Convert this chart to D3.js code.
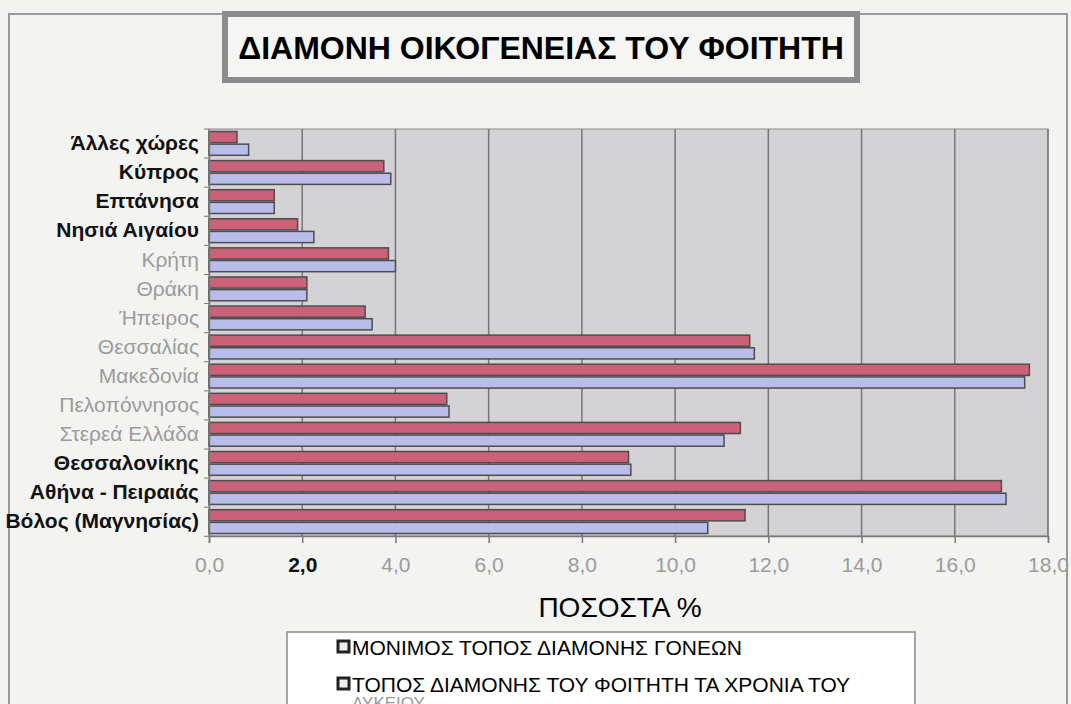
<!DOCTYPE html>
<html>
<head>
<meta charset="utf-8">
<script src="https://cdn.jsdelivr.net/npm/d3@7"></script>
<style>
  body { margin: 0; background: #f3f3f1; }
  svg { display: block; }
</style>
</head>
<body>
<div id="chart"></div>
<script>
const width = 1071;
const height = 704;

// categories, top to bottom as in the picture
const regions = ['Άλλες χώρες', 'Κύπρος', 'Επτάνησα', 'Νησιά Αιγαίου', 'Κρήτη', 'Θράκη', 'Ήπειρος',
  'Θεσσαλίας', 'Μακεδονία', 'Πελοπόννησος', 'Στερεά Ελλάδα', 'Θεσσαλονίκης', 'Αθήνα - Πειραιάς', 'Βόλος (Μαγνησίας)'];
// labels printed black & bold in the original (others are grey)
const darkLabels = ['Άλλες χώρες', 'Κύπρος', 'Επτάνησα', 'Νησιά Αιγαίου', 'Θεσσαλονίκης', 'Αθήνα - Πειραιάς', 'Βόλος (Μαγνησίας)'];

const parents = [0.6, 3.75, 1.4, 1.9, 3.85, 2.1, 3.35, 11.6, 17.6, 5.1, 11.4, 9.0, 17.0, 11.5];
const student = [0.85, 3.9, 1.4, 2.25, 4.0, 2.1, 3.5, 11.7, 17.5, 5.15, 11.05, 9.05, 17.1, 10.7];

const seriesNames = ['ΜΟΝΙΜΟΣ ΤΟΠΟΣ ΔΙΑΜΟΝΗΣ ΓΟΝΕΩΝ', 'ΤΟΠΟΣ ΔΙΑΜΟΝΗΣ ΤΟΥ ΦΟΙΤΗΤΗ ΤΑ ΧΡΟΝΙΑ ΤΟΥ'];
const xTicks = [0, 2, 4, 6, 8, 10, 12, 14, 16, 18];

const rows = regions.map((r, i) => ({ region: r, values: [parents[i], student[i]] }));

const color = d3.scaleOrdinal().domain([0, 1]).range(['#cc6279', '#b9bdea']);

const x = d3.scaleLinear().domain([0, 18]).range([209, 1048]);
const y = d3.scaleBand().domain(regions).range([129, 536]).paddingInner(0.13).paddingOuter(0.06);
const ySub = d3.scaleBand().domain([0, 1]).range([0, y.bandwidth()]).padding(0);

const svg = d3.select('#chart').append('svg').attr('width', width).attr('height', height);

// outer chart frame
svg.append('rect')
  .attr('x', 9).attr('y', 14).attr('width', 1058).attr('height', 720)
  .attr('fill', '#f3f3f1').attr('stroke', '#9a9a9a').attr('stroke-width', 2);

// title box
svg.append('rect')
  .attr('x', 225).attr('y', 14).attr('width', 632).attr('height', 66)
  .attr('fill', '#f5f5f3').attr('stroke', '#8c8c8c').attr('stroke-width', 6);
svg.append('text')
  .attr('x', 541).attr('y', 59)
  .attr('text-anchor', 'middle')
  .style('font-family', 'Liberation Sans, Arial, sans-serif')
  .style('font-weight', 'bold')
  .style('font-size', '32px')
  .text('ΔΙΑΜΟΝΗ ΟΙΚΟΓΕΝΕΙΑΣ ΤΟΥ ΦΟΙΤΗΤΗ');

// plot area
svg.append('rect')
  .attr('x', x(0)).attr('y', 129).attr('width', x(18) - x(0)).attr('height', 536 - 129)
  .attr('fill', '#d3d3d5').attr('stroke', '#8a8a8a').attr('stroke-width', 1);

// vertical gridlines
svg.append('g')
  .selectAll('line')
  .data(xTicks.slice(1))
  .join('line')
  .attr('x1', d => x(d)).attr('x2', d => x(d))
  .attr('y1', 129).attr('y2', 536)
  .attr('stroke', '#777').attr('stroke-width', 1.5);

// bars
const groups = svg.append('g')
  .selectAll('g.region')
  .data(rows)
  .join('g')
  .attr('class', 'region')
  .attr('transform', d => `translate(0,${y(d.region)})`);

groups.selectAll('rect')
  .data(d => d.values.map((v, i) => ({ v, i })))
  .join('rect')
  .attr('x', x(0))
  .attr('y', d => ySub(d.i) + 0.75)
  .attr('width', d => x(d.v) - x(0))
  .attr('height', ySub.bandwidth() - 1.5)
  .attr('fill', d => color(d.i))
  .attr('stroke', '#4d4d4d')
  .attr('stroke-width', 1.5);

// x axis
const xAxis = svg.append('g')
  .attr('transform', 'translate(0,536)')
  .call(d3.axisBottom(x).tickValues(xTicks).tickSize(7).tickPadding(14)
    .tickFormat(d => d3.format('.1f')(d).replace('.', ',')));
xAxis.select('.domain').attr('stroke', '#777').attr('stroke-width', 1.5);
xAxis.selectAll('line').attr('stroke', '#777').attr('stroke-width', 1.5);
xAxis.selectAll('text')
  .style('font-family', 'Liberation Sans, Arial, sans-serif')
  .style('font-size', '21px')
  .attr('fill', d => d === 2 ? '#111' : '#9b9b9b')
  .style('font-weight', d => d === 2 ? 'bold' : 'normal');

// y axis
const yAxis = svg.append('g')
  .attr('transform', `translate(${x(0)},0)`)
  .call(d3.axisLeft(y).tickSize(0).tickPadding(10));
yAxis.select('.domain').attr('stroke', '#777').attr('stroke-width', 1.5);
yAxis.selectAll('text')
  .style('font-family', 'Liberation Sans, Arial, sans-serif')
  .style('font-size', '21px')
  .attr('fill', d => darkLabels.includes(d) ? '#111' : '#9b9b9b')
  .style('font-weight', d => darkLabels.includes(d) ? 'bold' : 'normal');

// small category ticks on the left side between groups
svg.append('g')
  .selectAll('line')
  .data(d3.range(regions.length + 1))
  .join('line')
  .attr('x1', x(0) - 5).attr('x2', x(0))
  .attr('y1', i => 129 + i * y.step()).attr('y2', i => 129 + i * y.step())
  .attr('stroke', '#777');

// axis title
svg.append('text')
  .attr('x', 620).attr('y', 617)
  .attr('text-anchor', 'middle')
  .style('font-family', 'Liberation Sans Narrow, Arial Narrow, sans-serif')
  .style('font-size', '28px')
  .text('ΠΟΣΟΣΤΑ %');

// legend
svg.append('rect')
  .attr('x', 287).attr('y', 632).attr('width', 628).attr('height', 100)
  .attr('fill', '#fff').attr('stroke', '#8a8a8a').attr('stroke-width', 1.5);

const legend = svg.append('g')
  .selectAll('g')
  .data(seriesNames)
  .join('g')
  .attr('transform', (d, i) => `translate(338,${647 + i * 37})`);

legend.append('rect')
  .attr('x', 0).attr('y', -6).attr('width', 11).attr('height', 11)
  .attr('fill', '#eee').attr('stroke', '#222').attr('stroke-width', 3);
legend.append('text')
  .attr('x', 14).attr('y', 8)
  .style('font-family', 'Liberation Sans Narrow, Arial Narrow, sans-serif')
  .style('font-size', '21px')
  .text(d => d);

// wrapped remainder of the second legend entry, mostly below the frame edge
svg.append('text')
  .attr('x', 352).attr('y', 709)
  .style('font-family', 'Liberation Sans Narrow, Arial Narrow, sans-serif')
  .style('font-size', '17px')
  .attr('fill', '#999')
  .text('ΛΥΚΕΙΟΥ');
</script>
</body>
</html>
